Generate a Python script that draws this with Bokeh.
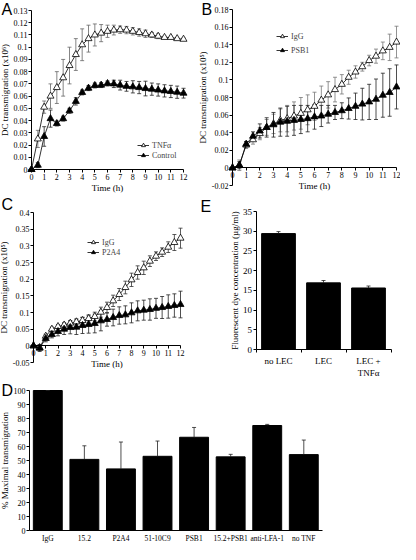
from bokeh.plotting import figure
from bokeh.models import (ColumnDataSource, Whisker, TeeHead, FixedTicker, CustomJSTickFormatter,
                          Range1d, Legend, LegendItem, Label)
from bokeh.layouts import column, row
from bokeh.embed import file_html
from bokeh.resources import INLINE

# ---------------- data ----------------
time_h = [0, 0.5, 1, 1.5, 2, 2.5, 3, 3.5, 4, 4.5, 5, 5.5, 6, 6.5, 7, 7.5, 8, 8.5, 9, 9.5, 10, 10.5, 11, 11.5, 12]
hour_ticks = [0, 1, 2, 3, 4, 5, 6, 7, 8, 9, 10, 11, 12]

# Panel A
a_yticks = [0, 0.01, 0.02, 0.03, 0.04, 0.05, 0.06, 0.07, 0.08, 0.09, 0.1, 0.11, 0.12, 0.13]
a_tnf = [0, 0.025, 0.051, 0.060, 0.067, 0.075, 0.085, 0.094, 0.102, 0.107, 0.110, 0.1115, 0.113, 0.114,
         0.1143, 0.114, 0.113, 0.112, 0.111, 0.110, 0.109, 0.108, 0.108, 0.107, 0.1065]
a_tnf_err = [0, 0.007, 0.005, 0.010, 0.013, 0.015, 0.015, 0.013, 0.013, 0.011, 0.009, 0.007, 0.005, 0.004,
             0.003, 0.003, 0.003, 0.003, 0.003, 0.002, 0.002, 0.001, 0.001, 0.001, 0.001]
a_ctrl = [0, 0.0035, 0.027, 0.0416, 0.0376, 0.0416, 0.048, 0.0557, 0.063, 0.0665, 0.0687, 0.069, 0.0703, 0.070,
          0.069, 0.068, 0.0676, 0.067, 0.0662, 0.0657, 0.065, 0.0643, 0.0638, 0.0632, 0.0624]
a_ctrl_err = [0, 0.002, 0.008, 0.007, 0.002, 0.002, 0.002, 0.003, 0.002, 0.002, 0.002, 0.002, 0.002, 0.003,
              0.004, 0.004, 0.005, 0.005, 0.006, 0.005, 0.005, 0.005, 0.005, 0.005, 0.004]

# Panel B
b_yticks = [-0.02, 0, 0.02, 0.04, 0.06, 0.08, 0.1, 0.12, 0.14, 0.16, 0.18]
b_igg = [0, 0.003, 0.026, 0.032, 0.039, 0.046, 0.050, 0.054, 0.056, 0.059, 0.062, 0.066, 0.070, 0.077,
         0.083, 0.089, 0.095, 0.103, 0.109, 0.115, 0.122, 0.127, 0.133, 0.137, 0.143]
b_igg_err = [0, 0.006, 0.004, 0.005, 0.007, 0.009, 0.011, 0.013, 0.015, 0.016, 0.018, 0.017, 0.016, 0.016,
             0.015, 0.014, 0.011, 0.008, 0.007, 0.005, 0.006, 0.008, 0.010, 0.015, 0.018]
b_psb1 = [0, 0.003, 0.027, 0.036, 0.042, 0.046, 0.049, 0.052, 0.053, 0.054, 0.055, 0.056, 0.058, 0.059,
          0.061, 0.063, 0.065, 0.0675, 0.070, 0.0725, 0.075, 0.078, 0.0826, 0.0857, 0.092]
b_psb1_err = [0, 0.004, 0.003, 0.005, 0.008, 0.011, 0.014, 0.016, 0.017, 0.017, 0.016, 0.015, 0.014, 0.012,
              0.010, 0.008, 0.009, 0.012, 0.015, 0.018, 0.020, 0.023, 0.025, 0.027, 0.025]

# Panel C
c_yticks = [-0.05, 0, 0.05, 0.1, 0.15, 0.2, 0.25, 0.3, 0.35, 0.4]
c_igg = [0, -0.005, 0.029, 0.050, 0.058, 0.0625, 0.068, 0.072, 0.076, 0.082, 0.088, 0.101, 0.115, 0.135,
         0.154, 0.175, 0.198, 0.220, 0.234, 0.254, 0.269, 0.281, 0.296, 0.310, 0.323]
c_igg_err = [0, 0.008, 0.006, 0.006, 0.006, 0.007, 0.008, 0.009, 0.010, 0.011, 0.013, 0.015, 0.016, 0.017,
             0.018, 0.019, 0.020, 0.020, 0.020, 0.016, 0.013, 0.013, 0.016, 0.024, 0.030]
c_p2a4 = [0, -0.007, 0.022, 0.034, 0.043, 0.050, 0.055, 0.056, 0.061, 0.064, 0.067, 0.075, 0.079, 0.085,
          0.091, 0.093, 0.099, 0.105, 0.107, 0.109, 0.1125, 0.115, 0.118, 0.121, 0.124]
c_p2a4_err = [0, 0.010, 0.010, 0.010, 0.013, 0.016, 0.019, 0.022, 0.024, 0.026, 0.028, 0.030, 0.020, 0.025,
              0.026, 0.027, 0.030, 0.030, 0.030, 0.032, 0.030, 0.033, 0.035, 0.035, 0.040]

# Panel D
d_cats = ["IgG", "15.2", "P2A4", "51-10C9", "PSB1", "15.2+PSB1", "anti-LFA-1", "no TNF"]
d_vals = [100, 50.8, 44, 53, 66.6, 52.6, 75, 54.2]
d_err = [0, 9.7, 19.2, 10.9, 7, 1.8, 0.8, 10.4]
d_yticks = [0, 10, 20, 30, 40, 50, 60, 70, 80, 90, 100]

# Panel E
e_cats = ["no LEC", "LEC", "LEC +\nTNFα"]
e_vals = [29.4, 16.9, 15.6]
e_err = [0.5, 0.6, 0.5]
e_yticks = [0, 5, 10, 15, 20, 25, 30, 35]

SERIF = "Liberation Serif"
SANS = "Liberation Sans"


def make_fig(cx0, cy0, cw, ch, xmap, ymap):
    """Figure whose frame fills the canvas; xmap/ymap give (value, page pixel) anchor pairs."""
    (xa, Xa), (xb, Xb) = xmap
    (ya, Ya), (yb, Yb) = ymap
    xs = (Xb - Xa) / (xb - xa)
    ys = (Ya - Yb) / (yb - ya)
    xr = Range1d(xa - (Xa - cx0) / xs, xb + (cx0 + cw - Xb) / xs)
    yr = Range1d(ya - (cy0 + ch - Ya) / ys, yb + (Yb - cy0) / ys)
    p = figure(width=cw, height=ch, x_range=xr, y_range=yr, output_backend="svg",
               toolbar_location=None, min_border=0, min_border_left=0, min_border_right=0,
               min_border_top=0, min_border_bottom=0)
    p.title.visible = False
    p.grid.visible = False
    p.outline_line_color = None
    p.background_fill_color = "white"
    p.border_fill_color = "white"
    for ax in (p.xaxis[0], p.yaxis[0]):
        ax.axis_line_color = "black"
        ax.axis_line_width = 1
        ax.major_tick_line_color = "black"
        ax.major_tick_in = 0
        ax.major_tick_out = 3
        ax.minor_tick_line_color = None
        ax.major_label_text_font = SERIF
        ax.major_label_text_font_size = "8px"
        ax.major_label_text_color = "black"
        ax.major_label_standoff = 1
        ax.axis_label_text_font = SERIF
        ax.axis_label_text_font_size = "9px"
        ax.axis_label_text_font_style = "normal"
        ax.axis_label_text_color = "black"
        ax.axis_label_standoff = 1
    p._cx0, p._cy0, p._ch = cx0, cy0, ch
    return p


def letter(p, text, sx, sy):
    p.add_layout(Label(x=sx - p._cx0, y=p._cy0 + p._ch - sy, x_units="screen", y_units="screen",
                       text=text, text_font=SANS, text_font_size="16px", text_color="black",
                       text_align="left", text_baseline="top"))


def legend_at(p, items, sx, sy_bottom, spacing):
    leg = Legend(items=items, location=(sx - p._cx0, p._cy0 + p._ch - sy_bottom),
                 orientation="vertical", background_fill_alpha=0, border_line_color=None,
                 label_text_font=SERIF, label_text_font_size="8px",
                 glyph_width=12, glyph_height=10, label_standoff=3,
                 spacing=spacing, padding=0, margin=0, label_height=10)
    p.add_layout(leg)


def time_panel(canvas, xmap, ymap, yticks, ylabel, series):
    p = make_fig(*canvas, xmap, ymap)
    p.xaxis.ticker = FixedTicker(ticks=hour_ticks)
    p.xaxis.bounds = (hour_ticks[0], hour_ticks[-1])
    p.xaxis.fixed_location = 0
    p.xaxis.axis_label = "Time (h)"
    p.xaxis.axis_label_standoff = 0
    p.yaxis.ticker = FixedTicker(ticks=yticks)
    p.yaxis.bounds = (yticks[0], yticks[-1])
    p.yaxis.fixed_location = 0
    p.yaxis.formatter = CustomJSTickFormatter(code="return String(Math.round(tick*1000)/1000);")
    p.yaxis.axis_label = ylabel
    items = []
    for name, vals, errs, fill, errcol in series:
        src = ColumnDataSource(dict(t=time_h, v=vals))
        keep = [i for i, e in enumerate(errs) if e > 0]
        wsrc = ColumnDataSource(dict(
            t=[time_h[i] for i in keep],
            up=[vals[i] + errs[i] for i in keep],
            lo=[vals[i] - errs[i] for i in keep]))
        p.add_layout(Whisker(source=wsrc, base="t", upper="up", lower="lo", dimension="height",
                             line_color=errcol, line_width=0.8,
                             upper_head=TeeHead(size=4, line_color=errcol, line_width=0.8),
                             lower_head=TeeHead(size=4, line_color=errcol, line_width=0.8)))
        ln = p.line("t", "v", source=src, line_color="black", line_width=0.8)
        sc = p.scatter("t", "v", source=src, marker="triangle", size=7,
                       fill_color=fill, line_color="black", line_width=0.8)
        items.append(LegendItem(label=name, renderers=[ln, sc]))
    return p, items


def bar_panel(canvas, xmap, ymap, cats, vals, errs, yticks, ylabel, width, xfont, boundary_ticks):
    p = make_fig(*canvas, xmap, ymap)
    pos = list(range(1, len(cats) + 1))
    minor = [k - 0.5 for k in pos] + [pos[-1] + 0.5]
    p.xaxis.ticker = FixedTicker(ticks=pos, minor_ticks=minor if boundary_ticks else [])
    p.xaxis.major_label_overrides = {k: c for k, c in zip(pos, cats)}
    p.xaxis.bounds = (minor[0], minor[-1])
    p.xaxis.fixed_location = 0
    p.xaxis.major_tick_out = 0
    p.xaxis.major_label_standoff = 3
    p.xaxis.major_label_text_font_size = xfont
    if boundary_ticks:
        p.xaxis.minor_tick_line_color = "black"
        p.xaxis.minor_tick_out = 3
        p.xaxis.minor_tick_in = 0
    p.yaxis.ticker = FixedTicker(ticks=yticks)
    p.yaxis.bounds = (yticks[0], yticks[-1])
    p.yaxis.fixed_location = minor[0]
    p.yaxis.axis_label = ylabel
    src = ColumnDataSource(dict(x=pos, v=vals, up=[v + e for v, e in zip(vals, errs)]))
    p.vbar(x="x", top="v", width=width, source=src, fill_color="black", line_color="black")
    p.add_layout(Whisker(source=src, base="x", upper="up", lower="v", line_color="#222222",
                         line_width=0.8, level="overlay",
                         upper_head=TeeHead(size=4, line_color="#222222", line_width=0.8),
                         lower_head=None))
    return p


# ---------------- panel A ----------------
pa, items = time_panel((8, 8, 198, 194), ((0, 39), (12, 191)), ((0, 177), (0.13, 18)),
                       a_yticks, "DC transmigration (x10⁶)",
                       [("TNFα", a_tnf, a_tnf_err, "white", "#666666"),
                        ("Control", a_ctrl, a_ctrl_err, "black", "#222222")])
legend_at(pa, items, 145, 168, 0)
letter(pa, "A", 9, 8)

# ---------------- panel B ----------------
pb, items = time_panel((206, 8, 202, 194), ((0, 240), (12, 404)), ((-0.02, 193), (0.18, 17)),
                       b_yticks, "DC transmigration (x10⁵)",
                       [("IgG", b_igg, b_igg_err, "white", "#777777"),
                        ("PSB1", b_psb1, b_psb1_err, "black", "#222222")])
legend_at(pb, items, 284, 63, 4)
letter(pb, "B", 209, 8)

# ---------------- panel C ----------------
pc, items = time_panel((8, 202, 198, 186), ((0, 41), (12, 188)), ((-0.05, 370), (0.4, 220)),
                       c_yticks, "DC transmigration (x10⁵)",
                       [("IgG", c_igg, c_igg_err, "white", "#333333"),
                        ("P2A4", c_p2a4, c_p2a4_err, "black", "#222222")])
legend_at(pc, items, 95, 265, 0)
letter(pc, "C", 9, 203)

# ---------------- panel E ----------------
pe = bar_panel((206, 202, 202, 186), ((1, 286), (3, 376)), ((0, 357), (35, 219)),
               e_cats, e_vals, e_err, e_yticks, "Fluorescent dye concentration (µg/ml)", 0.75, "9px", True)
pe.yaxis.major_label_text_font_size = "9px"
letter(pe, "E", 208, 205)

# ---------------- panel D ----------------
pdd = bar_panel((8, 388, 400, 164), ((1, 55.3), (8, 311.3)), ((0, 538), (100, 398)),
                d_cats, d_vals, d_err, d_yticks, "% Maximal transmigration", 0.79, "7.5px", False)
letter(pdd, "D", 9, 389)

layout = column(row(column(pa, pc, spacing=0), column(pb, pe, spacing=0), spacing=0), pdd, spacing=0)

open("out.html", "w").write(file_html(layout, INLINE))
